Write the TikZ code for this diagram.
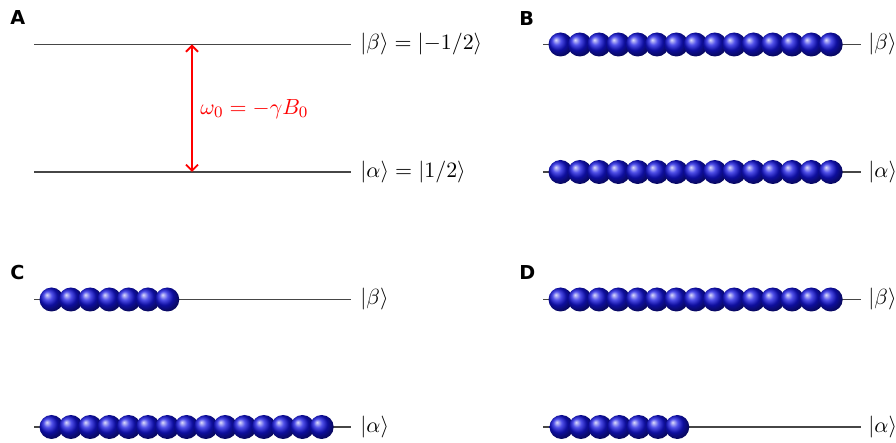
\documentclass[tikz,border=0pt]{standalone}
\usepackage{fontspec}
\newfontfamily\panelfont{DejaVu Sans}
\usetikzlibrary{arrows.meta}
\definecolor{levelgray}{RGB}{70,70,70}
\definecolor{spinblue}{RGB}{20,20,225}
\begin{document}
\begin{tikzpicture}[x=0.5pt,y=-0.5pt,
  level/.style={draw=levelgray, line width=0.65pt},
  ket/.style={anchor=west, inner sep=0pt, font=\fontsize{11}{13}\selectfont},
  panel/.style={anchor=north west, inner sep=0pt, font=\panelfont\bfseries\fontsize{9.6}{11}\selectfont},
  spin/.style={circle, inner sep=0pt, minimum size=12pt, ball color=spinblue},
  gap/.style={red, line width=0.9pt, {Straight Barb[length=3pt,width=6pt]}-{Straight Barb[length=3pt,width=6pt]}}
]
\useasboundingbox (0,0) rectangle (896,443);

% ---------- Panel A ----------
\node[panel] (pA) at (10,10) {A};
\coordinate (Atl) at (34,44.5);  \coordinate (Atr) at (351,44.5);
\coordinate (Abl) at (34,172);   \coordinate (Abr) at (351,172);
\draw[level] (Atl) -- (Atr);
\draw[level] (Abl) -- (Abr);
\node[ket] (kAt) at (360,44.5) {$|\beta\rangle = |{-1}/2\rangle$};
\node[ket] (kAb) at (360,172) {$|\alpha\rangle = |1/2\rangle$};
\coordinate (arrT) at (192,44.5);
\coordinate (arrB) at (192,172);
\draw[gap] (arrT) -- (arrB);
\node[ket, text=red] (omega) at (200,109) {$\omega_0 = -\gamma B_0$};

% ---------- Panel B ----------
\node[panel] (pB) at (519,11) {B};
\coordinate (Btl) at (543,44.5); \coordinate (Btr) at (861,44.5);
\coordinate (Bbl) at (543,172);  \coordinate (Bbr) at (861,172);
\draw[level] (Btl) -- (Btr);
\draw[level] (Bbl) -- (Bbr);
\node[ket] (kBt) at (868,44.5) {$|\beta\rangle$};
\node[ket] (kBb) at (868,172) {$|\alpha\rangle$};
\foreach \i in {0,...,14} {
  \node[spin] (Bt\i) at (560.5+19.3*\i,44.5) {};
}
\foreach \i in {0,...,14} {
  \node[spin] (Bb\i) at (560.5+19.3*\i,172) {};
}

% ---------- Panel C ----------
\node[panel] (pC) at (10,265) {C};
\coordinate (Ctl) at (34,299.5); \coordinate (Ctr) at (351,299.5);
\coordinate (Cbl) at (34,427);   \coordinate (Cbr) at (351,427);
\draw[level] (Ctl) -- (Ctr);
\draw[level] (Cbl) -- (Cbr);
\node[ket] (kCt) at (360,299.5) {$|\beta\rangle$};
\node[ket] (kCb) at (360,427) {$|\alpha\rangle$};
\foreach \i in {0,...,6} {
  \node[spin] (Ct\i) at (51.5+19.3*\i,299.5) {};
}
\foreach \i in {0,...,14} {
  \node[spin] (Cb\i) at (51.5+19.3*\i,427) {};
}

% ---------- Panel D ----------
\node[panel] (pD) at (519,265) {D};
\coordinate (Dtl) at (543,299.5); \coordinate (Dtr) at (861,299.5);
\coordinate (Dbl) at (543,427);   \coordinate (Dbr) at (861,427);
\draw[level] (Dtl) -- (Dtr);
\draw[level] (Dbl) -- (Dbr);
\node[ket] (kDt) at (868,299.5) {$|\beta\rangle$};
\node[ket] (kDb) at (868,427) {$|\alpha\rangle$};
\foreach \i in {0,...,14} {
  \node[spin] (Dt\i) at (560.5+19.3*\i,299.5) {};
}
\foreach \i in {0,...,6} {
  \node[spin] (Db\i) at (561.5+19.3*\i,427) {};
}
\end{tikzpicture}
\end{document}
